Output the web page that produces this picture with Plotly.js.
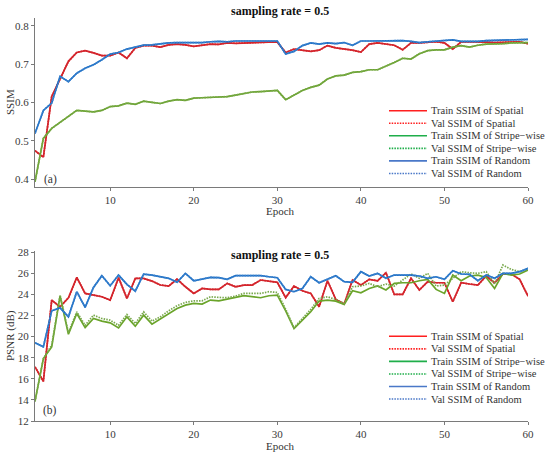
<!DOCTYPE html>
<html>
<head>
<meta charset="utf-8">
<script src="https://cdn.plot.ly/plotly-3.0.1.min.js"></script>
<style>html,body{margin:0;padding:0;background:#fff;}#chart{width:550px;height:457px;}</style>
</head>
<body>
<div id="chart"></div>
<script>
var epochs = [1,2,3,4,5,6,7,8,9,10,11,12,13,14,15,16,17,18,19,20,21,22,23,24,25,26,27,28,29,30,31,32,33,34,35,36,37,38,39,40,41,42,43,44,45,46,47,48,49,50,51,52,53,54,55,56,57,58,59,60];
var xTicks = [10,20,30,40,50,60];
var ssimTicks = [0.4,0.5,0.6,0.7,0.8];
var psnrTicks = [12,14,16,18,20,22,24,26,28];
var legendLabels = ["Train SSIM of Spatial","Val SSIM of Spatial","Train SSIM of Stripe\u2212wise","Val SSIM of Stripe\u2212wise","Train SSIM of Random","Val SSIM of Random"];

var ssimSpatialTrain = [0.474,0.457,0.615,0.659,0.707,0.730,0.735,0.729,0.722,0.722,0.730,0.715,0.742,0.748,0.748,0.744,0.750,0.752,0.750,0.746,0.750,0.752,0.751,0.755,0.754,0.755,0.756,0.756,0.757,0.757,0.730,0.739,0.735,0.733,0.736,0.748,0.742,0.739,0.736,0.731,0.752,0.755,0.752,0.749,0.737,0.755,0.755,0.756,0.758,0.755,0.739,0.758,0.758,0.757,0.757,0.756,0.757,0.758,0.758,0.753];
var ssimSpatialVal   = [0.474,0.457,0.615,0.659,0.707,0.730,0.735,0.729,0.722,0.722,0.730,0.715,0.742,0.748,0.748,0.744,0.750,0.752,0.750,0.746,0.750,0.752,0.751,0.755,0.754,0.755,0.756,0.756,0.757,0.757,0.730,0.739,0.735,0.733,0.736,0.748,0.742,0.739,0.736,0.731,0.752,0.755,0.752,0.749,0.737,0.755,0.755,0.756,0.758,0.755,0.739,0.758,0.758,0.757,0.757,0.756,0.757,0.758,0.758,0.753];
var ssimStripeTrain  = [0.393,0.506,0.532,0.548,0.563,0.579,0.577,0.575,0.579,0.589,0.591,0.598,0.595,0.603,0.600,0.597,0.603,0.607,0.605,0.611,0.612,0.613,0.614,0.615,0.619,0.623,0.627,0.628,0.630,0.631,0.607,0.620,0.631,0.639,0.645,0.661,0.669,0.671,0.678,0.680,0.685,0.685,0.694,0.704,0.715,0.713,0.727,0.735,0.737,0.737,0.744,0.748,0.744,0.749,0.752,0.752,0.753,0.755,0.756,0.756];
var ssimStripeVal    = [0.393,0.506,0.532,0.548,0.563,0.579,0.577,0.575,0.579,0.589,0.591,0.598,0.595,0.603,0.600,0.597,0.603,0.607,0.605,0.611,0.612,0.613,0.614,0.615,0.619,0.623,0.627,0.628,0.630,0.631,0.607,0.620,0.631,0.639,0.645,0.661,0.669,0.671,0.678,0.680,0.685,0.685,0.694,0.704,0.715,0.713,0.727,0.735,0.737,0.737,0.744,0.748,0.744,0.749,0.752,0.752,0.753,0.755,0.756,0.756];
var ssimRandomTrain  = [0.519,0.579,0.598,0.668,0.654,0.676,0.689,0.698,0.711,0.726,0.730,0.739,0.744,0.749,0.750,0.753,0.755,0.756,0.756,0.755,0.756,0.758,0.759,0.758,0.760,0.760,0.760,0.760,0.760,0.760,0.726,0.733,0.748,0.755,0.752,0.755,0.753,0.756,0.749,0.760,0.760,0.760,0.760,0.761,0.761,0.759,0.756,0.758,0.760,0.762,0.763,0.759,0.759,0.759,0.761,0.762,0.762,0.763,0.764,0.764];
var ssimRandomVal    = [0.519,0.579,0.598,0.668,0.654,0.676,0.689,0.698,0.711,0.726,0.730,0.739,0.744,0.749,0.750,0.753,0.755,0.756,0.756,0.755,0.756,0.758,0.759,0.758,0.760,0.760,0.760,0.760,0.760,0.760,0.726,0.733,0.748,0.755,0.752,0.755,0.753,0.756,0.749,0.760,0.760,0.760,0.760,0.761,0.761,0.759,0.756,0.758,0.760,0.762,0.763,0.759,0.759,0.759,0.761,0.762,0.762,0.763,0.764,0.764];

var psnrSpatialTrain = [17.13,15.76,23.46,22.83,23.68,25.62,24.10,23.94,23.78,23.46,25.59,23.62,25.52,25.52,25.27,24.90,24.80,25.46,24.73,24.10,24.57,24.48,24.48,25.05,24.73,24.89,24.89,25.37,25.27,25.15,23.70,24.80,24.35,24.10,22.83,25.30,23.53,23.09,25.37,24.89,25.43,25.30,26.06,24.00,24.00,25.53,24.42,25.21,25.11,25.11,23.31,25.11,24.99,24.89,25.75,25.11,25.94,25.94,25.43,23.85];
var psnrSpatialVal   = [17.13,15.76,23.46,22.83,23.68,25.62,24.10,23.94,23.78,23.46,25.59,23.62,25.52,25.52,25.27,24.90,24.80,25.46,24.73,24.10,24.57,24.48,24.48,25.05,24.73,24.89,24.89,25.37,25.27,25.15,23.70,24.80,24.35,24.10,22.83,25.30,23.53,23.09,25.37,24.89,25.43,25.30,26.06,24.00,24.00,25.53,24.42,25.21,25.11,25.11,23.31,25.11,24.99,24.89,25.75,25.11,25.94,25.94,25.43,23.85];
var psnrStripeTrain  = [13.86,17.92,19.03,23.87,20.23,22.19,20.86,21.72,21.47,21.31,20.83,21.88,20.99,22.04,21.18,21.66,22.20,22.67,22.99,23.15,23.09,23.47,23.40,23.53,23.72,23.88,23.78,23.69,23.88,23.94,22.45,20.77,21.56,22.36,23.37,23.47,23.37,23.05,24.35,24.16,24.57,24.80,24.42,25.05,25.11,25.11,25.30,25.43,24.48,24.10,25.84,25.30,25.75,25.84,25.62,24.57,26.00,25.84,25.94,26.32];
var psnrStripeVal    = [13.86,17.92,19.19,23.94,20.39,22.35,21.08,22.04,21.72,21.56,21.08,22.10,21.24,22.35,21.47,21.88,22.45,22.93,23.25,23.40,23.40,23.78,23.72,23.69,23.85,24.10,24.10,24.10,24.26,24.19,22.60,20.84,21.72,22.58,23.62,23.78,23.53,23.15,24.73,24.80,25.05,24.73,24.99,24.80,25.37,25.94,25.53,26.00,24.80,24.89,25.53,26.16,26.06,26.00,26.16,24.99,26.79,26.38,26.16,26.38];
var psnrRandomTrain  = [19.41,19.03,22.45,22.73,21.88,24.26,22.77,24.67,25.78,24.83,25.84,24.95,24.32,25.93,25.84,25.68,25.53,25.15,26.00,25.30,25.43,25.62,25.59,25.43,25.78,25.78,25.78,25.78,25.68,25.59,24.48,24.26,24.57,25.68,25.11,25.46,25.78,25.21,25.15,26.16,25.75,26.00,25.53,25.84,25.84,25.84,25.75,25.53,25.68,25.43,26.25,25.94,25.91,25.30,25.84,25.53,26.00,26.00,26.16,26.48];
var psnrRandomVal    = [19.41,19.03,22.45,22.73,21.88,24.26,22.77,24.67,25.78,24.83,25.84,24.95,24.32,25.93,25.84,25.68,25.53,25.15,26.00,25.30,25.43,25.62,25.59,25.43,25.78,25.78,25.78,25.78,25.68,25.59,24.48,24.26,24.57,25.68,25.11,25.46,25.78,25.21,25.15,26.16,25.75,26.00,25.53,25.84,25.84,25.84,25.75,25.53,25.68,25.43,26.25,25.94,25.91,25.30,25.84,25.53,26.00,26.00,26.16,26.48];

var FONT = "Liberation Serif, Times New Roman, serif";
var lineColors = ["#d4252c","#d4252c","#6aa42a","#78a84c","#1e6fc0","#3a82d2"];
var lineDash = ["solid","1.5px,1.2px","solid","1.5px,1.2px","solid","1.5px,1.2px"];
var legendColors = ["#ff1f1f","#ff1f1f","#1fae4a","#1fae4a","#4a78c8","#4a78c8"];

var ssimSeries = [ssimSpatialTrain, ssimSpatialVal, ssimStripeTrain, ssimStripeVal, ssimRandomTrain, ssimRandomVal];
var psnrSeries = [psnrSpatialTrain, psnrSpatialVal, psnrStripeTrain, psnrStripeVal, psnrRandomTrain, psnrRandomVal];

var traces = [];
ssimSeries.forEach(function(s, i){
  traces.push({x: epochs, y: s, type: "scatter", mode: "lines", name: legendLabels[i],
    xaxis: "x", yaxis: "y", line: {color: lineColors[i], width: 1.7, dash: lineDash[i]}, showlegend: false});
});
psnrSeries.forEach(function(s, i){
  traces.push({x: epochs, y: s, type: "scatter", mode: "lines", name: legendLabels[i],
    xaxis: "x2", yaxis: "y2", line: {color: lineColors[i], width: 1.7, dash: lineDash[i]}, showlegend: false});
});

// page geometry helpers (plot area: px 35..528, py 18..421)
var L = 35, R = 22, T = 18, B = 36, W = 550, H = 457;
var PW = W - L - R, PH = H - T - B;
function px(v){ return (v - L) / PW; }
function py(v){ return (H - B - v) / PH; }

var tickFont = {family: FONT, size: 11, color: "#3a3a3a"};
function xAxis(anchor){
  return {domain: [0,1], anchor: anchor, range: [1,60], tickvals: xTicks, ticks: "outside", ticklen: 3,
    tickcolor: "#7a7a7a", showline: true, linecolor: "#7a7a7a", linewidth: 1, showgrid: false, zeroline: false,
    tickfont: tickFont, fixedrange: true};
}
function yAxis(anchor, dom, rng, tv, fmt){
  return {domain: dom, anchor: anchor, range: rng, tickvals: tv, tickformat: fmt, ticks: "outside", ticklen: 3,
    tickcolor: "#7a7a7a", showline: true, linecolor: "#7a7a7a", linewidth: 1, showgrid: false, zeroline: false,
    tickfont: tickFont, fixedrange: true};
}

var annFont = {family: FONT, size: 11, color: "#333"};
var titleFont = {family: FONT, size: 12, color: "#111"};
var annotations = [
  {text: "<b>sampling rate = 0.5</b>", x: px(280), y: py(11), font: titleFont},
  {text: "<b>sampling rate = 0.5</b>", x: px(280), y: py(254.7), font: titleFont},
  {text: "SSIM", x: px(10), y: py(102), textangle: -90, font: annFont},
  {text: "Epoch", x: px(280), y: py(211), font: annFont},
  {text: "PSNR (dB)", x: px(10), y: py(336), textangle: -90, font: annFont},
  {text: "Epoch", x: px(280), y: py(446), font: annFont},
  {text: "(a)", x: px(50), y: py(179), font: {family: FONT, size: 11.5, color: "#333"}},
  {text: "(b)", x: px(50), y: py(410.7), font: {family: FONT, size: 11.5, color: "#333"}}
];
annotations.forEach(function(a){ a.xref = "paper"; a.yref = "paper"; a.showarrow = false; a.xanchor = "center"; a.yanchor = "middle"; });

var shapes = [];
var legendTops = [110.7, 336.3];
legendTops.forEach(function(top){
  legendLabels.forEach(function(lab, i){
    var yy = py(top + i * 12.55);
    shapes.push({type: "line", xref: "paper", yref: "paper", x0: px(389), x1: px(427), y0: yy, y1: yy,
      line: {color: legendColors[i], width: 1.6, dash: lineDash[i]}});
    annotations.push({text: lab, xref: "paper", yref: "paper", x: px(428.5), y: yy, xanchor: "left", yanchor: "middle",
      showarrow: false, font: {family: FONT, size: 10.5, color: "#333"}});
  });
});

var layout = {
  width: W, height: H, margin: {l: L, r: R, t: T, b: B, pad: 0},
  paper_bgcolor: "#fff", plot_bgcolor: "#fff", showlegend: false,
  xaxis: xAxis("y"),
  yaxis: yAxis("x", [py(186.7), 1], [0.38, 0.82], ssimTicks, ".1f"),
  xaxis2: xAxis("y2"),
  yaxis2: yAxis("x2", [0, py(250.7)], [12, 28.15], psnrTicks, "d"),
  annotations: annotations, shapes: shapes
};

Plotly.newPlot("chart", traces, layout, {displayModeBar: false, staticPlot: true});
</script>
</body>
</html>
